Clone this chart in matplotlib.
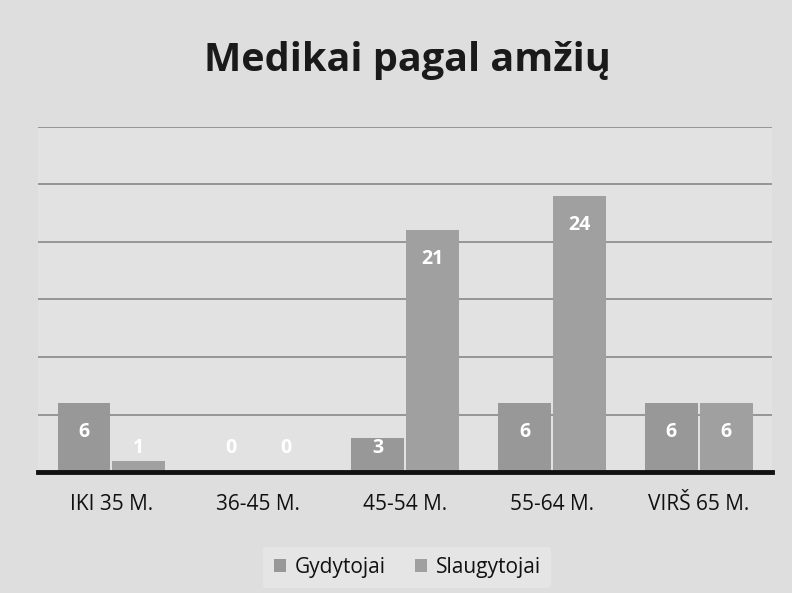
import matplotlib.pyplot as plt
import numpy as np

categories = ["IKI 35 M.", "36-45 M.", "45-54 M.", "55-64 M.", "VIRŠ 65 M."]
gydytojai = [6, 0, 3, 6, 6]
slaugytojai = [1, 0, 21, 24, 6]
series_names = ["Gydytojai", "Slaugytojai"]

plt.rcParams['font.family'] = ['Open Sans', 'DejaVu Sans']

fig = plt.figure(figsize=(7.92, 5.93), dpi=100, facecolor="#dedede")
ax = fig.add_axes([0.048, 0.204, 0.927, 0.582])
ax.set_facecolor("#e2e2e2")

x = np.arange(len(categories))
w = 0.36
off = 0.187
b1 = ax.bar(x - off, gydytojai, w, color="#989898", label=series_names[0])
b2 = ax.bar(x + off, slaugytojai, w, color="#a0a0a0", label=series_names[1])

# data labels, inside end
for bars in (b1, b2):
    for r in bars:
        v = r.get_height()
        y = max(v - 2.5, 2.1)
        ax.text(r.get_x() + r.get_width() / 2, y, str(int(v)), ha="center", va="center",
                color="white", fontsize=14, fontweight="bold")

ax.set_xlim(-0.5, 4.5)
ax.set_ylim(0, 30)
ax.set_yticks([5, 10, 15, 20, 25, 30])
ax.yaxis.grid(True, color="#909090", linewidth=1.3)
ax.set_axisbelow(True)
ax.tick_params(axis="y", left=False, labelleft=False)
ax.tick_params(axis="x", length=0, pad=16, labelsize=15, labelcolor="#111111")
ax.set_xticks(x)
ax.set_xticklabels(categories)
for s in ["top", "right", "left"]:
    ax.spines[s].set_visible(False)
ax.spines["bottom"].set_linewidth(3.5)
ax.spines["bottom"].set_color("#111111")

fig.text(0.514, 0.898, "Medikai pagal amžių", ha="center", va="center",
         fontsize=28.5, fontweight="bold", color="#1a1a1a")

leg = fig.legend(handles=[b1, b2], loc="center", bbox_to_anchor=(0.514, 0.043),
                 ncol=2, frameon=True, fontsize=15, handlelength=0.6, handleheight=0.6,
                 handletextpad=0.4, columnspacing=1.4, borderpad=0.5)
leg.get_frame().set_facecolor("#e8e8e8")
leg.get_frame().set_edgecolor("none")
for t in leg.get_texts():
    t.set_color("#111111")

fig.savefig("out.png", dpi=100, facecolor=fig.get_facecolor())
